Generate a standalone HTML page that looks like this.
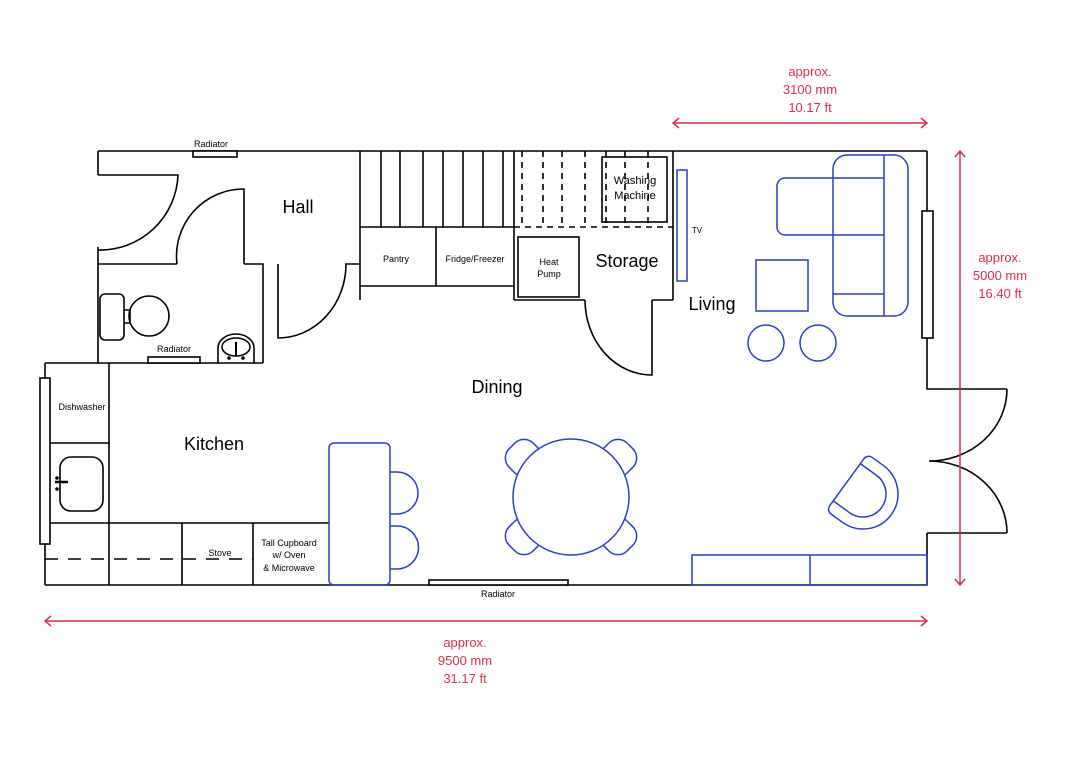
<!DOCTYPE html>
<html><head><meta charset="utf-8"><style>
html,body{margin:0;padding:0;background:#fff;}
svg{display:block;font-family:"Liberation Sans",sans-serif;}
</style></head><body>
<svg width="1080" height="764" viewBox="0 0 1080 764" xmlns="http://www.w3.org/2000/svg">
<g fill="none" stroke="#000" stroke-width="1.6">
<path d="M98 151 H927"/>
<path d="M98 151 V175 M98 247 V363"/>
<path d="M98 175 H178 A78 78 0 0 1 98 250"/>
<path d="M98 264 H177 M244 264 H263 V363 M98 363 H263"/>
<path d="M244 264 V189 A67 67 0 0 0 177 264"/>
<path d="M278 264 V338 A68 74 0 0 0 346 264 H360"/>
<path d="M360 151 V300"/>
<path d="M381 151V227 M400 151V227 M423 151V227 M443 151V227 M463 151V227 M483 151V227 M503 151V227 M514 151V300"/>
<path d="M360 227 H514 M360 286 H514 M436 227 V286"/>
<path stroke-dasharray="6 5" d="M522 151V227 M543 151V227 M562 151V227 M585 151V227 M606 151V227 M625 151V227 M648 151V227 M514 227 H673"/>
<rect x="602" y="157" width="65" height="65"/>
<rect x="518" y="237" width="61" height="60"/>
<path d="M673 151 V300 M514 300 H585 M652 300 H673"/>
<path d="M652 300 V375 A67 75 0 0 1 585 300"/>
<path d="M927 151 V389 H1007 M927 533 H1007 M927 533 V585"/>
<rect x="922" y="211" width="11" height="127" fill="#fff"/>
<path d="M1007 389 A78 72 0 0 1 929 461 A78 72 0 0 1 1007 533"/>
<path d="M45 585 H927 M45 363 V585 M45 363 H98 M109 363 V585 M50 443 H109 M50 523 H329 M182 523 V585 M253 523 V585"/>
<path stroke-dasharray="13 10" d="M45 559 H253"/>
<rect x="40" y="378" width="10" height="166" fill="#fff"/>
<rect x="60" y="457" width="43" height="54" rx="11"/>
<path d="M55 482 H68" stroke-width="2.5"/>
<rect x="193" y="151" width="44" height="6" fill="#fff"/>
<rect x="148" y="357" width="52" height="6" fill="#fff"/>
<rect x="429" y="580" width="139" height="5" fill="#fff"/>
<rect x="100" y="294" width="24" height="46" rx="5"/>
<path d="M124 310 H130 V323 H124"/>
<ellipse cx="149" cy="316" rx="20" ry="20"/>
<path d="M218 363 V348 A18 14 0 0 1 254 348 V363"/>
<ellipse cx="236" cy="347" rx="14" ry="9"/>
<path d="M236 342 V356" stroke-width="2"/>
</g>
<circle cx="57" cy="478" r="1.8"/><circle cx="57" cy="489" r="1.8"/>
<circle cx="229" cy="358" r="1.8"/><circle cx="243" cy="358" r="1.8"/>
<g fill="none" stroke="#2b3fc4" stroke-width="1.5">
<rect x="677" y="170" width="10" height="111"/>
<rect x="329" y="443" width="61" height="142" rx="5"/>
<path d="M390 472 H397 A21 21 0 0 1 397 514 H390 M390 526 H397 A21 21 0 0 1 397 569 H390"/>
<g fill="#fff">
<rect x="-17" y="-17" width="34" height="34" rx="13" transform="translate(524 458) rotate(45)"/>
<rect x="-17" y="-17" width="34" height="34" rx="13" transform="translate(618 458) rotate(45)"/>
<rect x="-17" y="-17" width="34" height="34" rx="13" transform="translate(524 536) rotate(45)"/>
<rect x="-17" y="-17" width="34" height="34" rx="13" transform="translate(618 536) rotate(45)"/>
<circle cx="571" cy="497" r="58"/>
</g>
<rect x="833" y="155" width="75" height="161" rx="14"/>
<path d="M884 155 V316 M833 178 H884 M833 235 H884 M833 294 H884"/>
<path d="M833 178 H785 A8 8 0 0 0 777 186 V227 A8 8 0 0 0 785 235 H833"/>
<rect x="756" y="260" width="52" height="51"/>
<circle cx="766" cy="343" r="18"/><circle cx="818" cy="343" r="18"/>
<g transform="translate(863 494) rotate(-54)">
<path d="M-29 -20 H29 A6 6 0 0 1 35 -14 V0 A35 35 0 0 1 -35 0 V-14 A6 6 0 0 1 -29 -20 Z"/>
<path d="M-23 -20 V0 A23 23 0 0 0 23 0 V-20"/>
</g>
<rect x="692" y="555" width="235" height="30"/>
<path d="M810 555 V585"/>
</g>
<g stroke="#d9304f" stroke-width="1.5" fill="none">
<path d="M673 123 H927 M679 118 L673 123 L679 128 M921 118 L927 123 L921 128"/>
<path d="M960 151 V585 M955 157 L960 151 L965 157 M955 579 L960 585 L965 579"/>
<path d="M45 621 H927 M51 616 L45 621 L51 626 M921 616 L927 621 L921 626"/>
</g>
<g fill="#d9304f" font-size="13" text-anchor="middle">
<text x="810" y="76">approx.</text><text x="810" y="94">3100 mm</text><text x="810" y="112">10.17 ft</text>
<text x="1000" y="262">approx.</text><text x="1000" y="280">5000 mm</text><text x="1000" y="298">16.40 ft</text>
<text x="465" y="647">approx.</text><text x="465" y="665">9500 mm</text><text x="465" y="683">31.17 ft</text>
</g>
<g fill="#000" text-anchor="middle">
<text x="298" y="213" font-size="18">Hall</text>
<text x="627" y="267" font-size="18">Storage</text>
<text x="712" y="310" font-size="18">Living</text>
<text x="497" y="393" font-size="18">Dining</text>
<text x="214" y="450" font-size="18">Kitchen</text>
<g font-size="9">
<text x="211" y="147">Radiator</text>
<text x="174" y="352">Radiator</text>
<text x="498" y="597">Radiator</text>
<text x="396" y="262">Pantry</text>
<text x="475" y="262">Fridge/Freezer</text>
<text x="549" y="265">Heat</text><text x="549" y="277">Pump</text>
<text x="635" y="184" font-size="11">Washing</text><text x="635" y="199" font-size="11">Machine</text>
<text x="697" y="233" font-size="8">TV</text>
<text x="82" y="410">Dishwasher</text>
<text x="220" y="556">Stove</text>
<text x="289" y="546">Tall Cupboard</text><text x="289" y="558">w/ Oven</text><text x="289" y="571">&amp; Microwave</text>
</g>
</g>
</svg>
</body></html>
